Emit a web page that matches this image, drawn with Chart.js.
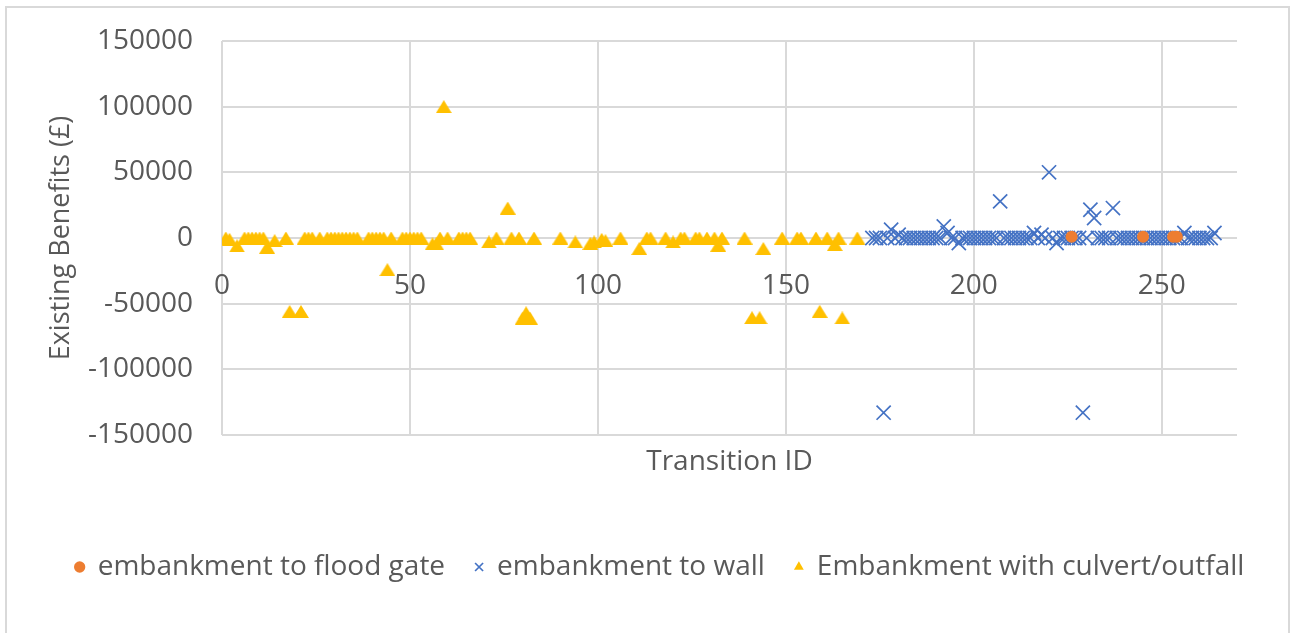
<!DOCTYPE html>
<html>
<head>
<meta charset="utf-8">
<script src="https://cdn.jsdelivr.net/npm/chart.js@4/dist/chart.umd.min.js"></script>
<style>
  html, body { margin: 0; padding: 0; background: #ffffff; }
  #wrap { position: relative; width: 1292px; height: 633px; overflow: hidden; }
  #frame { position: absolute; left: 5px; top: 6px; width: 1285px; height: 660px; border: 2px solid #D9D9D9; box-sizing: border-box; pointer-events: none; }
  canvas { position: absolute; left: 0; top: 0; }
</style>
</head>
<body>
<div id="wrap">
  <canvas id="c" width="1292" height="633"></canvas>
  <div id="frame"></div>
</div>
<script>
// ---- data ----
const seriesNames = ["embankment to flood gate", "embankment to wall", "Embankment with culvert/outfall"];

const gateIds    = [226, 245, 253, 254];
const gateValues = [1000, 1000, 1000, 1000];

const wallIds = [173,174,175,176,177,178,179,180,181,182,183,184,185,186,187,188,189,190,191,192,
                 193,194,195,196,197,198,199,200,201,202,203,204,205,206,207,208,209,210,211,212,
                 213,214,215,216,217,218,219,220,221,222,223,224,225,226,227,228,229,230,231,232,
                 233,234,235,236,237,238,239,240,241,242,243,244,245,246,247,248,249,250,251,252,
                 253,254,255,256,257,258,259,260,261,262,263,264];
const wallValues = [0,0,0,-133000,0,6300,0,2500,0,0,0,0,0,0,0,0,0,0,0,8800,
                    3800,0,0,-3800,0,0,0,0,0,0,0,0,0,0,27900,0,0,0,0,0,
                    0,0,0,3800,0,2500,0,50000,0,-3800,0,0,0,0,0,0,-133000,0,21500,15200,
                    0,0,0,0,22800,0,0,0,0,0,0,0,0,0,0,0,0,0,0,0,
                    0,0,0,3800,0,0,0,0,0,0,0,3800];

const culvertIds = [1,2,4,6,7,8,9,10,11,12,14,17,18,21,22,23,24,26,28,29,
                    30,31,32,33,34,35,36,39,40,41,42,43,44,45,48,49,50,51,52,53,
                    56,57,58,59,60,63,64,65,66,71,73,76,77,79,80,80.9,81.9,83,90,94,
                    98,99,101,102,106,111,113,114,118,120,122,123,126,127,129,131,132,133,139,141,
                    143,144,149,153,154,158,159,161,163,164,165,169];
const culvertValues = [0,-1000,-6000,0,0,0,0,0,0,-7000,-2000,0,-56000,-56000,0,0,0,0,0,0,
                       0,0,0,0,0,0,0,0,0,0,0,0,-24100,0,0,0,0,0,0,0,
                       -4500,-4500,0,100000,0,0,0,0,0,-3000,0,22800,0,0,-61000,-57000,-61000,0,0,-3000,
                       -4000,-3000,-1000,-2000,0,-8000,0,0,0,-3000,0,0,0,0,0,0,-5500,0,0,-60700,
                       -60700,-8000,0,0,0,0,-55800,0,-5000,0,-60900,0];

const xTickValues = [0, 50, 100, 150, 200, 250];
const yTickValues = [-150000, -100000, -50000, 0, 50000, 100000, 150000];
const xMin = 0, xMax = 270;
const yMin = -150000, yMax = 150000;
const xTitle = "Transition ID";
const yTitle = "Existing Benefits (\u00a3)";

// ---- chart ----
const toPoints = (ids, vals) => ids.map((x, i) => ({ x: x, y: vals[i] }));
const setTicks = (vals) => (s) => { s.ticks = vals.map(v => ({ value: v })); };
const plain = (v) => String(v);
const textColor = "#595959";
const gridColor = "#D9D9D9";
const gateColor = "#ED7D31", wallColor = "#4472C4", culvertColor = "#FFC000";

// triangle marker centred on its bounding box (as the spreadsheet draws it)
const triMarker = document.createElement("canvas");
triMarker.width = 16; triMarker.height = 13;
(function () {
  const t = triMarker.getContext("2d");
  t.fillStyle = culvertColor;
  t.beginPath(); t.moveTo(0, 13); t.lineTo(8, 0); t.lineTo(16, 13); t.closePath(); t.fill();
})();

Chart.defaults.font.family = "'Open Sans', 'Noto Sans', sans-serif";
Chart.defaults.font.size = 28;
Chart.defaults.color = textColor;

new Chart(document.getElementById("c"), {
  type: "scatter",
  data: {
    datasets: [
      { label: seriesNames[0], data: toPoints(gateIds, gateValues), pointStyle: "circle",
        pointRadius: 6, backgroundColor: gateColor, borderColor: gateColor, borderWidth: 0, xAxisID: "x", yAxisID: "y" },
      { label: seriesNames[1], data: toPoints(wallIds, wallValues), pointStyle: "crossRot",
        pointRadius: 10, backgroundColor: wallColor, borderColor: wallColor, borderWidth: 1.7, xAxisID: "x", yAxisID: "y" },
      { label: seriesNames[2], data: toPoints(culvertIds, culvertValues), pointStyle: triMarker,
        pointRadius: 8, backgroundColor: culvertColor, borderColor: culvertColor, borderWidth: 0, xAxisID: "x", yAxisID: "y" }
    ]
  },
  options: {
    responsive: false,
    animation: false,
    events: [],
    layout: { padding: { left: 30, right: 2, top: 41, bottom: 42 } },
    plugins: {
      tooltip: { enabled: false },
      legend: {
        position: "bottom",
        labels: {
          usePointStyle: true, boxWidth: 8, boxHeight: 8, padding: 30, color: textColor, font: { size: 28 },
          generateLabels: (chart) => {
            const items = Chart.defaults.plugins.legend.labels.generateLabels(chart);
            items.forEach(it => { if (it.pointStyle === triMarker) it.pointStyle = "triangle"; });
            return items;
          }
        }
      }
    },
    scales: {
      x: {
        type: "linear", position: "bottom", min: xMin, max: xMax,
        afterBuildTicks: setTicks(xTickValues),
        ticks: { display: false },
        grid: { color: gridColor, lineWidth: 2, drawTicks: false },
        border: { display: false },
        title: { display: true, text: xTitle, color: textColor, font: { size: 28 }, padding: { top: 0, bottom: 44 } },
        afterFit: (s) => { s.height = 88; }
      },
      x2: {
        type: "linear", axis: "x", position: { y: 0 }, min: xMin, max: xMax,
        afterBuildTicks: setTicks(xTickValues),
        ticks: { display: true, padding: 31, color: textColor, maxRotation: 0, callback: plain },
        grid: { display: false, drawTicks: false },
        border: { display: false }
      },
      y: {
        type: "linear", position: "left", min: yMin, max: yMax,
        afterBuildTicks: setTicks(yTickValues),
        ticks: { padding: 29, color: textColor, callback: plain },
        grid: { color: gridColor, lineWidth: 2, drawTicks: false },
        border: { display: false },
        title: { display: true, text: yTitle, color: textColor, font: { size: 27 }, padding: { top: 15, bottom: 0 } },
        afterFit: (s) => { s.width = 192; s.paddingTop = 0; s.paddingBottom = 0; }
      },
      y2: {
        type: "linear", position: "right", min: yMin, max: yMax,
        ticks: { display: false },
        grid: { display: false, drawTicks: false },
        border: { display: false },
        afterFit: (s) => { s.width = 53; s.paddingTop = 0; s.paddingBottom = 0; }
      }
    }
  }
});
</script>
</body>
</html>
